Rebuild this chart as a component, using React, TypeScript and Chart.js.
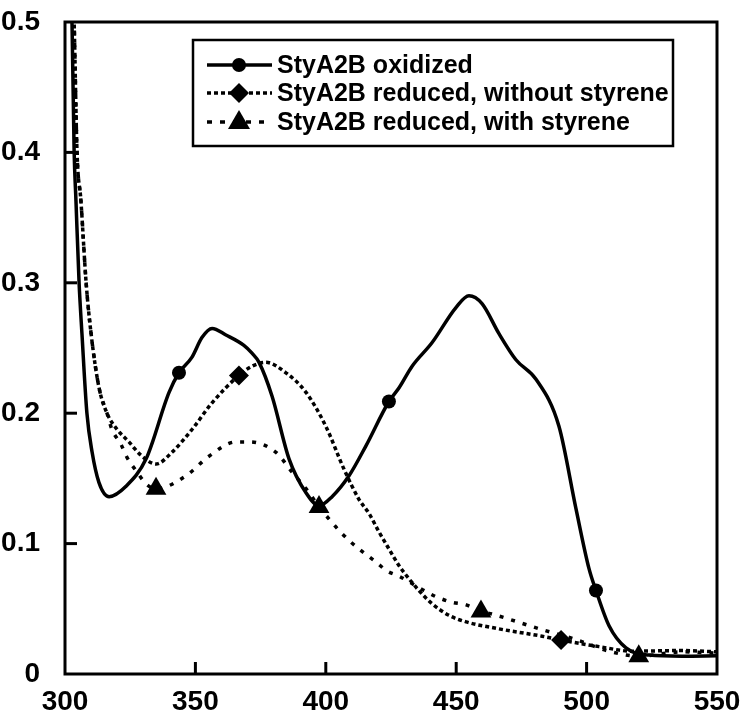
import React, { useEffect, useRef } from "react";
import { Chart, registerables } from "chart.js";

Chart.register(...registerables);

// ---- data (wavelength nm, absorbance) ----
const oxWave = [302.2, 302.7, 303.5, 304.2, 305.4, 306.5, 308.4, 310.4, 313, 316.9, 323.4, 331.1, 339.9, 343.7, 348.7, 352.5, 356.4, 361.7, 368.6, 371.7, 374.4, 379.4, 385.9, 392.4, 397.4, 402.4, 408.9, 415.4, 424.2, 428.1, 433.1, 440.7, 449.9, 454.9, 459.9, 466.4, 472.9, 480.6, 489.4, 495.9, 500.9, 503.6, 508.6, 515.1, 523.9, 536.6, 550];
const oxAbs = [0.53, 0.498, 0.401, 0.363, 0.3, 0.261, 0.2, 0.17, 0.147, 0.136, 0.144, 0.165, 0.216, 0.231, 0.243, 0.258, 0.265, 0.26, 0.252, 0.246, 0.239, 0.213, 0.165, 0.139, 0.129, 0.136, 0.152, 0.175, 0.209, 0.2195, 0.236, 0.254, 0.281, 0.29, 0.284, 0.261, 0.241, 0.226, 0.19, 0.127, 0.081, 0.064, 0.037, 0.02, 0.0145, 0.0137, 0.014];
const oxMarkers = [343.7, 424.2, 503.6];

const redWave = [303, 303.5, 304.6, 306.1, 308.1, 310, 313, 316.1, 320, 324.5, 329, 334.9, 341, 348.7, 356.4, 366.7, 371.7, 377, 384.7, 392.4, 400, 407, 412.7, 416.6, 420.4, 424.2, 428.1, 431.9, 435.7, 440.7, 447.2, 453.8, 465.3, 482.9, 490.2, 504.8, 517.4, 536.6, 550];
const redAbs = [0.53, 0.5, 0.401, 0.363, 0.3, 0.261, 0.22, 0.2, 0.1875, 0.178, 0.168, 0.161, 0.17, 0.1875, 0.208, 0.229, 0.236, 0.239, 0.231, 0.216, 0.19, 0.157, 0.134, 0.123, 0.109, 0.096, 0.083, 0.073, 0.064, 0.054, 0.045, 0.04, 0.035, 0.029, 0.026, 0.021, 0.0175, 0.018, 0.017];
const redMarkers = [366.7, 490.2];

const styWave = [303, 303.5, 304.6, 306.1, 308.1, 310, 313, 316.1, 318, 321.5, 323.8, 327.6, 331, 334.9, 346.4, 355.2, 365.6, 370.6, 380.9, 387, 393.6, 397.4, 401.2, 405.1, 409.7, 413.9, 419.2, 423.5, 428.1, 437.7, 442.6, 448.4, 453.8, 459.5, 463.7, 482.9, 495, 508.6, 520, 536.6, 550];
const styAbs = [0.53, 0.5, 0.401, 0.363, 0.3, 0.261, 0.22, 0.2, 0.1875, 0.176, 0.166, 0.155, 0.146, 0.142, 0.152, 0.167, 0.178, 0.178, 0.17, 0.155, 0.139, 0.128, 0.119, 0.11, 0.101, 0.094, 0.086, 0.079, 0.075, 0.064, 0.059, 0.055, 0.053, 0.048, 0.046, 0.034, 0.027, 0.0175, 0.0137, 0.017, 0.016];
const styMarkers = [334.9, 397.4, 459.5, 520];

const seriesLabels = [
  "StyA2B oxidized",
  "StyA2B reduced, without styrene",
  "StyA2B reduced, with styrene",
];

const FONT = "'Liberation Sans', Arial, sans-serif";

const pts = (xs: number[], ys: number[]) => xs.map((x, i) => ({ x, y: ys[i] }));
const markerRadius = (marks: number[], r: number) => (ctx: any) =>
  ctx.raw && marks.includes(ctx.raw.x) ? r : 0;

const framePlugin = {
  id: "frameTicks",
  afterDatasetsDraw(chart: any) {
    const { ctx, chartArea: a, scales } = chart;
    ctx.save();
    ctx.strokeStyle = "#000";
    ctx.lineWidth = 3;
    ctx.strokeRect(a.left, a.top, a.right - a.left, a.bottom - a.top);
    ctx.lineWidth = 3;
    const tl = 12;
    scales.x.ticks.forEach((t: any) => {
      const px = scales.x.getPixelForValue(t.value);
      if (Math.abs(px - a.left) < 2 || Math.abs(px - a.right) < 2) return;
      ctx.beginPath();
      ctx.moveTo(px, a.bottom);
      ctx.lineTo(px, a.bottom - tl);
      ctx.stroke();
    });
    scales.y.ticks.forEach((t: any) => {
      const py = scales.y.getPixelForValue(t.value);
      if (Math.abs(py - a.top) < 2 || Math.abs(py - a.bottom) < 2) return;
      ctx.beginPath();
      ctx.moveTo(a.left, py);
      ctx.lineTo(a.left + tl, py);
      ctx.stroke();
    });

    // legend box
    const bx = a.left + 128;
    const by = a.top + 18;
    const bw = 480;
    const bh = 106;
    ctx.fillStyle = "#fff";
    ctx.fillRect(bx, by, bw, bh);
    ctx.lineWidth = 2.5;
    ctx.strokeRect(bx, by, bw, bh);
    const rowY = [by + 25, by + 53, by + 82];
    const dashes = [[], [4, 3], [5, 8]];
    const styles = ["circle", "diamond", "triangle"];
    chart.data.datasets.forEach((ds: any, i: number) => {
      const y = rowY[i];
      const x0 = bx + 14;
      const x1 = bx + 79;
      const mx = bx + 46;
      ctx.lineWidth = 3.5;
      ctx.setLineDash(dashes[i]);
      ctx.beginPath();
      ctx.moveTo(x0, y);
      ctx.lineTo(x1, y);
      ctx.stroke();
      ctx.setLineDash([]);
      ctx.fillStyle = "#000";
      ctx.beginPath();
      if (styles[i] === "circle") {
        ctx.arc(mx, y, 7, 0, Math.PI * 2);
      } else if (styles[i] === "diamond") {
        ctx.moveTo(mx, y - 10);
        ctx.lineTo(mx + 10, y);
        ctx.lineTo(mx, y + 10);
        ctx.lineTo(mx - 10, y);
        ctx.closePath();
      } else {
        ctx.moveTo(mx, y - 12);
        ctx.lineTo(mx + 11, y + 7);
        ctx.lineTo(mx - 11, y + 7);
        ctx.closePath();
      }
      ctx.fill();
      ctx.font = `bold 25px ${FONT}`;
      ctx.textAlign = "left";
      ctx.textBaseline = "middle";
      ctx.fillText(ds.label, bx + 84, y + 1);
    });
    ctx.restore();
  },
};

export default function App() {
  const ref = useRef<HTMLCanvasElement | null>(null);
  useEffect(() => {
    if (!ref.current) return;
    const common = {
      borderColor: "#000",
      backgroundColor: "#000",
      pointBackgroundColor: "#000",
      pointBorderColor: "#000",
      pointBorderWidth: 0,
      fill: false,
      cubicInterpolationMode: "monotone" as const,
      clip: 0,
    };
    const chart = new Chart(ref.current, {
      type: "line",
      data: {
        datasets: [
          {
            ...common,
            label: seriesLabels[0],
            data: pts(oxWave, oxAbs),
            borderWidth: 3.5,
            pointStyle: "circle",
            pointRadius: markerRadius(oxMarkers, 7),
            pointHoverRadius: markerRadius(oxMarkers, 7),
          },
          {
            ...common,
            label: seriesLabels[1],
            data: pts(redWave, redAbs),
            borderWidth: 3.5,
            borderDash: [4, 3],
            pointStyle: "rectRot",
            pointRadius: markerRadius(redMarkers, 10),
            pointHoverRadius: markerRadius(redMarkers, 10),
          },
          {
            ...common,
            label: seriesLabels[2],
            data: pts(styWave, styAbs),
            borderWidth: 3.5,
            borderDash: [4, 8],
            pointStyle: "triangle",
            pointRadius: markerRadius(styMarkers, 12),
            pointHoverRadius: markerRadius(styMarkers, 12),
          },
        ],
      },
      options: {
        responsive: false,
        animation: false,
        devicePixelRatio: 1,
        layout: { autoPadding: false, padding: { top: 22, right: 32, left: 0, bottom: 0 } },
        plugins: { legend: { display: false }, tooltip: { enabled: false } },
        scales: {
          x: {
            type: "linear",
            min: 300,
            max: 550,
            offset: false,
            grid: { display: false, offset: false },
            border: { display: false },
            ticks: {
              stepSize: 50,
              color: "#000",
              padding: 3,
              maxRotation: 0,
              font: { family: FONT, size: 28, weight: "bold" },
            },
            afterFit: (s: any) => {
              s.height = 49;
              s.paddingLeft = 0;
              s.paddingRight = 0;
              s.paddingTop = 0;
              s.paddingBottom = 0;
            },
          },
          y: {
            type: "linear",
            min: 0,
            max: 0.5,
            grid: { display: false },
            border: { display: false },
            ticks: {
              stepSize: 0.1,
              color: "#000",
              padding: 17,
              font: { family: FONT, size: 28, weight: "bold" },
            },
            afterFit: (s: any) => {
              s.width = 65;
              s.paddingLeft = 0;
              s.paddingRight = 0;
              s.paddingTop = 0;
              s.paddingBottom = 0;
            },
          },
        },
      },
      plugins: [framePlugin],
    });
    return () => chart.destroy();
  }, []);
  return (
    <div style={{ position: "absolute", left: 0, top: 0, width: 749, height: 723, background: "#fff" }}>
      <canvas ref={ref} width={749} height={723} style={{ width: 749, height: 723, display: "block" }} />
    </div>
  );
}
